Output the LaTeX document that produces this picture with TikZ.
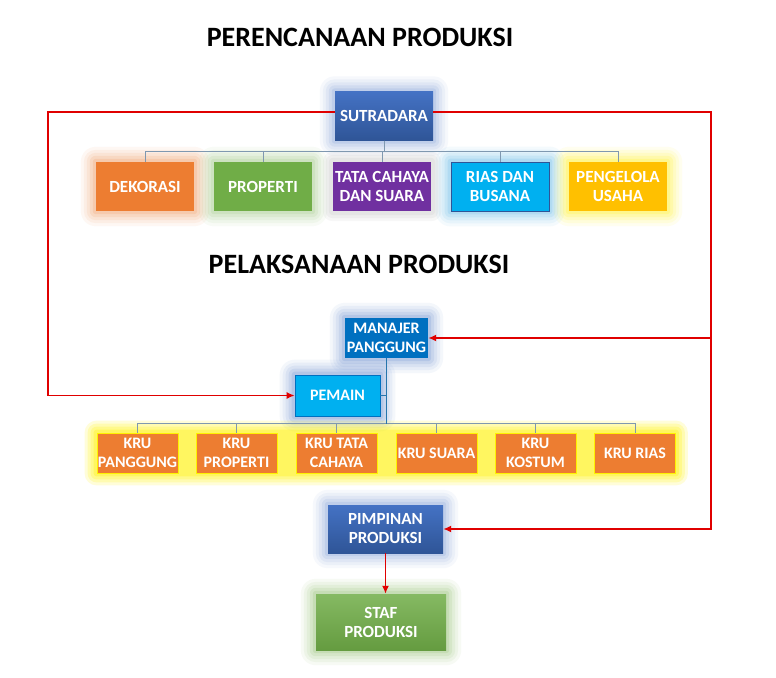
\documentclass[tikz,border=0pt]{standalone}
\usepackage{fontspec}
\setmainfont{Carlito}
\usetikzlibrary{calc,backgrounds,arrows.meta}
\definecolor{cblue}{HTML}{4472C4}
\definecolor{cblued}{HTML}{2F5597}
\definecolor{corange}{HTML}{ED7D31}
\definecolor{cgreen}{HTML}{70AD47}
\definecolor{cpurple}{HTML}{7030A0}
\definecolor{ccyan}{HTML}{00B0F0}
\definecolor{cgold}{HTML}{FFC000}
\definecolor{cdblue}{HTML}{0070C0}
\definecolor{cred}{HTML}{E00000}
\definecolor{ctree}{HTML}{7F98B0}
\newcommand\myglow[2]{%
  \foreach \r/\o in {15/0.08,12/0.1,9/0.13,6/0.18,3/0.25}{%
    \fill[#2,opacity=\o,rounded corners=\r pt] ($(#1.south west)+(-\r,\r)$) rectangle ($(#1.north east)+(\r,-\r)$);}}
\begin{document}
\begin{tikzpicture}[x=1pt,y=-1pt,
  box/.style={minimum width=98pt,minimum height=49pt,inner sep=0pt,align=center,text=white,
    font=\fontsize{17}{19}\selectfont\bfseries},
  krubox/.style={box,minimum width=81pt,minimum height=40pt,fill=corange,draw=yellow,line width=0.8pt,
    font=\fontsize{16}{19}\selectfont\bfseries},
  title/.style={font=\fontsize{28}{30}\selectfont\bfseries,text=black},
  tree/.style={draw=ctree,line width=0.8pt},
  redl/.style={draw=cred,line width=1.8pt},
  arr/.style={-{Latex[length=8pt,width=7pt]}}]
\useasboundingbox (0,0) rectangle (776,677);

\node[title] (t1) at (360,37) {PERENCANAAN PRODUKSI};
\node[title] (t2) at (359,264) {PELAKSANAAN PRODUKSI};

\node[box,top color=cblue,bottom color=cblued] (sut) at (384,116) {SUTRADARA};
\node[box,fill=corange] (dek) at (145,186.5) {DEKORASI};
\node[box,fill=cgreen] (pro) at (263,186.5) {PROPERTI};
\node[box,fill=cpurple] (tat) at (382,186.5) {TATA CAHAYA\\DAN SUARA};
\node[box,fill=ccyan,draw=cblued,line width=0.8pt] (ria) at (500,186.5) {RIAS DAN\\BUSANA};
\node[box,fill=cgold] (pen) at (618,186.5) {PENGELOLA\\USAHA};

\node[box,minimum width=83pt,minimum height=40pt,fill=cdblue,font=\fontsize{16}{19}\selectfont\bfseries] (man) at (386.5,338) {MANAJER\\PANGGUNG};
\node[box,minimum width=85pt,minimum height=41pt,fill=ccyan,draw=cdblue,line width=0.6pt,font=\fontsize{16}{19}\selectfont\bfseries] (pem) at (337.5,395.5) {PEMAIN};

\node[krubox] (k1) at (137.5,453) {KRU\\PANGGUNG};
\node[krubox] (k2) at (236.5,453) {KRU\\PROPERTI};
\node[krubox] (k3) at (336.5,453) {KRU TATA\\CAHAYA};
\node[krubox] (k4) at (436.5,453) {KRU SUARA};
\node[krubox] (k5) at (535.5,453) {KRU\\KOSTUM};
\node[krubox] (k6) at (635,453) {KRU RIAS};

\node[box,minimum width=115pt,minimum height=48pt,top color=cblue,bottom color=cblued] (pim) at (385.5,529) {PIMPINAN\\PRODUKSI};
\node[box,minimum width=130pt,minimum height=56pt,top color=cgreen!85!white,bottom color=cgreen!90!black] (sta) at (381,622) {STAF\\PRODUKSI};

\begin{scope}[on background layer]
  \fill[white] (0,0) rectangle (776,677);
  \myglow{sut}{cblue!60!white}
  \myglow{dek}{corange!70!white}
  \myglow{pro}{cgreen!60!white}
  \foreach \r/\o in {10/0.1,7/0.12,4/0.15}{%
    \fill[gray!60!white,opacity=\o,rounded corners=\r pt] ($(tat.south west)+(-\r,\r)$) rectangle ($(tat.north east)+(\r,-\r)$);}
  \myglow{ria}{ccyan!60!cblue!60!white}
  \myglow{pen}{yellow!80!white}
  \myglow{man}{cblue!70!white}
  \myglow{pem}{cblue!70!white}
  \foreach \r/\o in {12/0.15,9/0.18,6/0.22,3/0.3}{%
    \fill[yellow,opacity=\o,rounded corners=\r pt] ($(k1.south west)+(-\r,\r)$) rectangle ($(k6.north east)+(\r,-\r)$);}
  \myglow{pim}{cblue!60!white}
  \myglow{sta}{cgreen!70!white}
\end{scope}

% tree connectors
\foreach \c in {dek,pro,tat,ria,pen}{\draw[tree] (sut.south) |- ($(\c.north)+(0,-10)$) -- (\c.north);}
\foreach \c in {k1,k2,k3,k4,k5,k6}{\draw[tree] (man.south) |- ($(\c.north)+(0,-9)$) -- (\c.north);}
\draw[tree,draw=cdblue!70!gray] (man.south) -- ($(k3.north)!(man.south)!(k4.north)+(0,-9)$);
\draw[tree,draw=cdblue!70!gray] (pem.east) -- (pem.east -| man.south);

% red connectors
\coordinate (L) at (48,0);
\coordinate (R) at (711,0);
\draw[redl,arr] ($(sut.west)+(0,-4)$) -| (L |- pem.west) -- (pem.west);
\draw[redl,arr] ($(sut.east)+(0,-4)$) -| (R |- pim.east) -- (pim.east);
\draw[redl,arr] (R |- man.east) -- (man.east);
\draw[redl,arr] (pim.south) -- (pim.south |- sta.north);
\end{tikzpicture}
\end{document}
